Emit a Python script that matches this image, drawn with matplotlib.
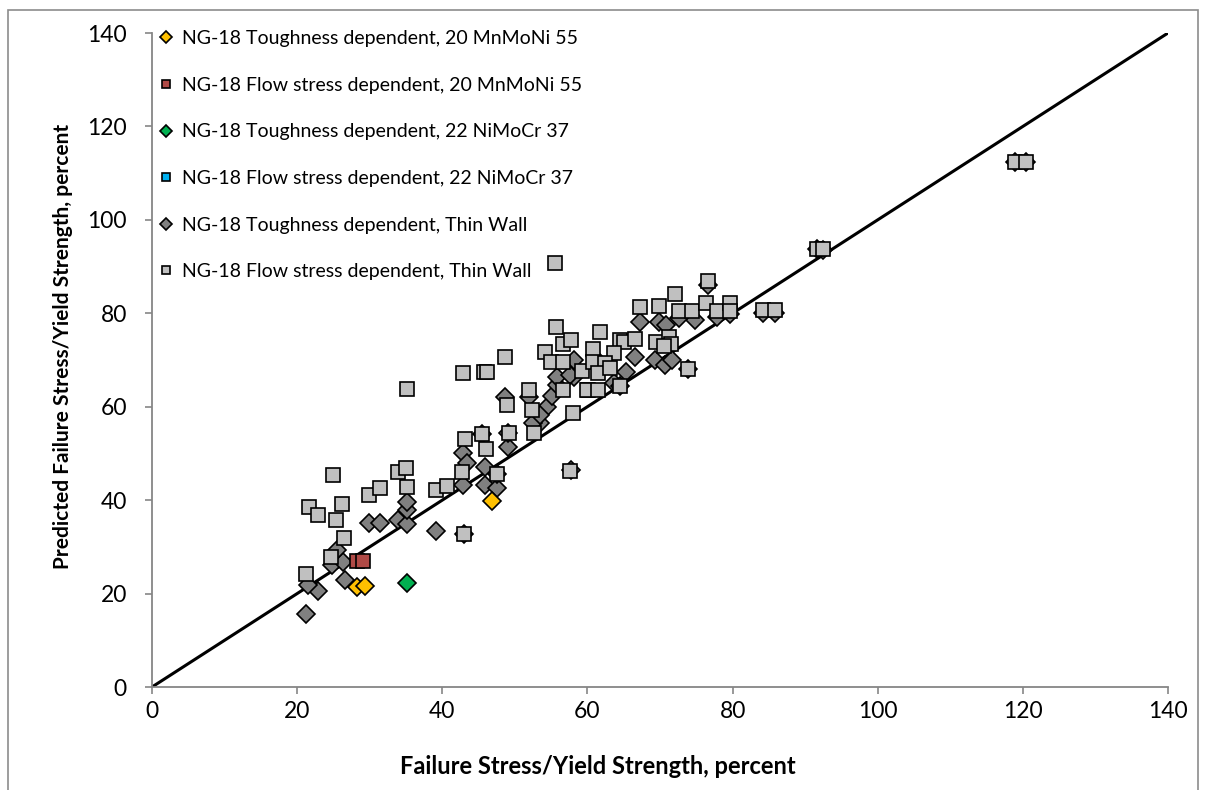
import matplotlib
matplotlib.use("Agg")
import matplotlib.pyplot as plt
from matplotlib.patches import Rectangle

plt.rcParams['font.family'] = ["Lato", "DejaVu Sans"]

# NG-18 predictions vs. measured failure stress (both as % of yield strength)
tough_mnmoni_x = [28.3, 29.4, 46.9]
tough_mnmoni_y = [21.5, 21.6, 39.8]

flow_mnmoni_x = [28.3, 29.1]
flow_mnmoni_y = [27.0, 27.0]

tough_nimocr_x = [35.1]
tough_nimocr_y = [22.2]

flow_nimocr_x = []
flow_nimocr_y = []

tough_thin_x = [21.2, 22.9, 21.5, 26.6, 24.8, 26.3, 25.5, 29.9, 31.4, 33.9,
                35.2, 35.1, 35.1, 39.2, 43.0, 42.9, 43.4, 42.8, 45.9, 45.9,
                47.5, 49.0, 48.6, 51.9, 53.5, 52.5, 54.4, 53.5, 55.1, 55.8,
                55.8, 58.1, 57.6, 58.1, 61.7, 63.6, 65.3, 66.5, 69.3, 70.7,
                71.6, 67.3, 69.8, 70.8, 74.8, 72.6, 77.9, 79.6, 76.6, 57.7,
                64.5, 73.9, 84.2, 85.8, 91.6, 92.5, 118.9, 120.5, 49.1, 45.5,
                47.5]
tough_thin_y = [15.6, 20.6, 21.8, 22.8, 26.1, 26.8, 29.3, 35.2, 35.2, 35.8,
                35.0, 37.9, 39.7, 33.5, 32.8, 50.0, 47.9, 43.2, 47.2, 43.2,
                42.5, 51.3, 62.1, 62.1, 56.5, 56.5, 60.0, 58.2, 62.2, 64.7,
                66.4, 66.4, 66.8, 70.0, 69.3, 65.0, 67.4, 70.7, 70.0, 68.9,
                70.0, 78.2, 78.2, 77.5, 78.6, 79.0, 79.3, 79.8, 86.0, 46.5,
                64.4, 68.0, 80.0, 80.0, 93.7, 93.5, 112.3, 112.3, 54.4, 54.1,
                45.7]

flow_thin_x = [21.2, 21.6, 22.9, 24.9, 25.3, 26.2, 26.5, 24.7, 29.9, 31.4,
               33.9, 35.0, 35.1, 35.2, 39.2, 40.7, 42.7, 43.0, 42.9, 45.7,
               46.2, 48.6, 43.1, 45.5, 46.0, 49.2, 47.6, 48.9, 51.9, 52.3,
               52.7, 55.5, 55.7, 56.6, 57.7, 54.2, 55.0, 56.6, 56.7, 57.6,
               58.0, 59.2, 60.1, 60.7, 60.7, 61.8, 64.5, 65.1, 66.6, 69.5,
               71.3, 71.5, 70.6, 63.6, 62.4, 61.5, 63.1, 59.9, 61.5, 64.5,
               73.9, 67.3, 69.9, 72.0, 72.6, 74.4, 76.3, 76.6, 77.9, 79.7,
               79.6, 84.2, 85.8, 91.6, 92.5, 118.9, 120.5]
flow_thin_y = [24.2, 38.5, 36.9, 45.4, 35.8, 39.2, 31.8, 27.8, 41.1, 42.5,
               46.1, 46.8, 42.9, 63.8, 42.2, 43.0, 46.0, 32.8, 67.2, 67.4,
               67.5, 70.6, 53.0, 54.1, 51.0, 54.4, 45.7, 60.4, 63.6, 59.2,
               54.3, 90.8, 77.0, 73.4, 74.2, 71.7, 69.5, 69.5, 63.6, 46.2,
               58.6, 67.7, 63.6, 72.4, 69.6, 76.1, 74.3, 73.8, 74.4, 73.9,
               75.0, 73.4, 72.9, 71.4, 69.3, 67.2, 68.2, 63.6, 63.6, 64.4,
               68.0, 81.4, 81.6, 84.1, 80.5, 80.5, 82.1, 86.9, 80.5, 82.1,
               80.5, 80.6, 80.6, 93.7, 93.7, 112.3, 112.3]

labels = [
    "NG-18 Toughness dependent, 20 MnMoNi 55",
    "NG-18 Flow stress dependent, 20 MnMoNi 55",
    "NG-18 Toughness dependent, 22 NiMoCr 37",
    "NG-18 Flow stress dependent, 22 NiMoCr 37",
    "NG-18 Toughness dependent, Thin Wall",
    "NG-18 Flow stress dependent, Thin Wall",
]

axis_ticks = [0, 20, 40, 60, 80, 100, 120, 140]

W, H = 1206, 790
fig = plt.figure(figsize=(W / 100, H / 100), dpi=100)
fig.patch.set_facecolor("white")

# outer chart border
fig.add_artist(Rectangle((8 / W, -0.05), (1198 - 8) / W, 1.05 - 10 / H,
                         transform=fig.transFigure, fill=False,
                         edgecolor="#8c8c8c", linewidth=1.2))

ax = fig.add_axes([152 / W, 1 - 687 / H, (1168 - 152) / W, (687 - 33) / H])

# 1:1 reference line
ax.plot([0, 140], [0, 140], color="black", linewidth=2.2, zorder=2)

series = [
    (tough_mnmoni_x, tough_mnmoni_y, "D", "#FFC000", 9.2, 6),
    (flow_mnmoni_x, flow_mnmoni_y, "s", "#B04A46", 9.5, 6),
    (tough_nimocr_x, tough_nimocr_y, "D", "#00B050", 9.2, 6),
    (flow_nimocr_x, flow_nimocr_y, "s", "#00B0F0", 9.5, 6),
    (tough_thin_x, tough_thin_y, "D", "#808080", 9.2, 3),
    (flow_thin_x, flow_thin_y, "s", "#C0C0C0", 9.5, 4),
]

handles = []
for (xs, ys, mk, col, ms, z), lab in zip(series, labels):
    h, = ax.plot(xs, ys, linestyle="none", marker=mk, markersize=ms,
                 markerfacecolor=col, markeredgecolor="black",
                 markeredgewidth=1.2, zorder=z, label=lab)
    handles.append(h)

ax.set_xlim(0, 140)
ax.set_ylim(0, 140)
ax.set_xticks(axis_ticks)
ax.set_yticks(axis_ticks)

for side in ("top", "right"):
    ax.spines[side].set_visible(False)
for side in ("left", "bottom"):
    ax.spines[side].set_color("#868686")
    ax.spines[side].set_linewidth(1.3)

ax.tick_params(axis="both", direction="out", length=5, width=1.2,
               color="#868686", labelcolor="black", labelsize=16.5)
ax.tick_params(axis="x", pad=5)
ax.tick_params(axis="y", pad=13)

fig.text(598 / W, 1 - 766 / H, "Failure Stress/Yield Strength, percent",
         ha="center", va="center", fontsize=17, fontweight="bold")
fig.text(63 / W, 1 - 346 / H, "Predicted Failure Stress/Yield Strength, percent",
         ha="center", va="center", rotation=90, fontsize=15, fontweight="bold")

leg = ax.legend(handles=handles, loc="upper left",
                bbox_to_anchor=(-0.004, 1.022), frameon=False,
                fontsize=14, markerscale=0.62, handlelength=0.7,
                handletextpad=0.45, labelspacing=1.52, borderaxespad=0.2)

fig.savefig("out.png", dpi=100, facecolor="white")
